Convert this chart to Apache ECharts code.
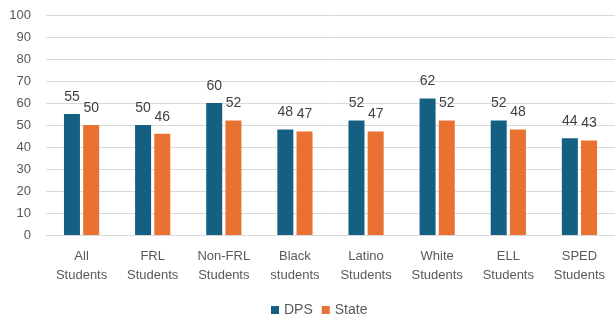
<!DOCTYPE html>
<html>
<head>
<meta charset="utf-8">
<script src="https://cdn.jsdelivr.net/npm/echarts@6/dist/echarts.min.js"></script>
<style>
  html, body { margin: 0; padding: 0; background: #fff; }
  #chart { width: 615px; height: 322px; }
</style>
</head>
<body>
<div id="chart"></div>
<script>
// data
const categories = ['All\nStudents', 'FRL\nStudents', 'Non-FRL\nStudents', 'Black\nstudents',
  'Latino\nStudents', 'White\nStudents', 'ELL\nStudents', 'SPED\nStudents'];
const dps = [55, 50, 60, 48, 52, 62, 52, 44];
const state = [50, 46, 52, 47, 47, 52, 48, 43];

const textColor = '#595959';
const fontFamily = '"Liberation Sans", Arial, sans-serif';

const chart = echarts.init(document.getElementById('chart'));

const labelStyle = {
  show: true,
  position: 'top',
  distance: 10,
  color: '#404040',
  fontSize: 14,
  fontFamily: fontFamily,
};

chart.setOption({
  animation: false,
  textStyle: { fontFamily: fontFamily },
  grid: { left: 46, top: 15, width: 573, height: 220 },
  legend: {
    data: ['DPS', 'State'],
    top: 303,
    left: 271,
    padding: 0,
    itemWidth: 8,
    itemHeight: 8,
    itemGap: 9,
    icon: 'rect',
    textStyle: { color: textColor, fontSize: 14, fontFamily: fontFamily },
  },
  xAxis: {
    type: 'category',
    data: categories,
    axisLine: { lineStyle: { color: '#d9d9d9' } },
    axisTick: { show: false },
    axisLabel: { color: textColor, fontSize: 13, margin: 12, lineHeight: 19, interval: 0 },
  },
  yAxis: {
    type: 'value',
    min: 0,
    max: 100,
    interval: 10,
    axisLine: { show: false },
    axisTick: { show: false },
    axisLabel: { color: textColor, fontSize: 13, margin: 15 },
    splitLine: { lineStyle: { color: '#d9d9d9' } },
  },
  series: [
    {
      name: 'DPS',
      type: 'bar',
      data: dps,
      barWidth: 16,
      barGap: '20%',
      itemStyle: { color: '#156082' },
      label: labelStyle,
    },
    {
      name: 'State',
      type: 'bar',
      data: state,
      barWidth: 16,
      itemStyle: { color: '#E97132' },
      label: labelStyle,
    },
  ],
});

window.addEventListener('resize', () => chart.resize());
</script>
</body>
</html>
